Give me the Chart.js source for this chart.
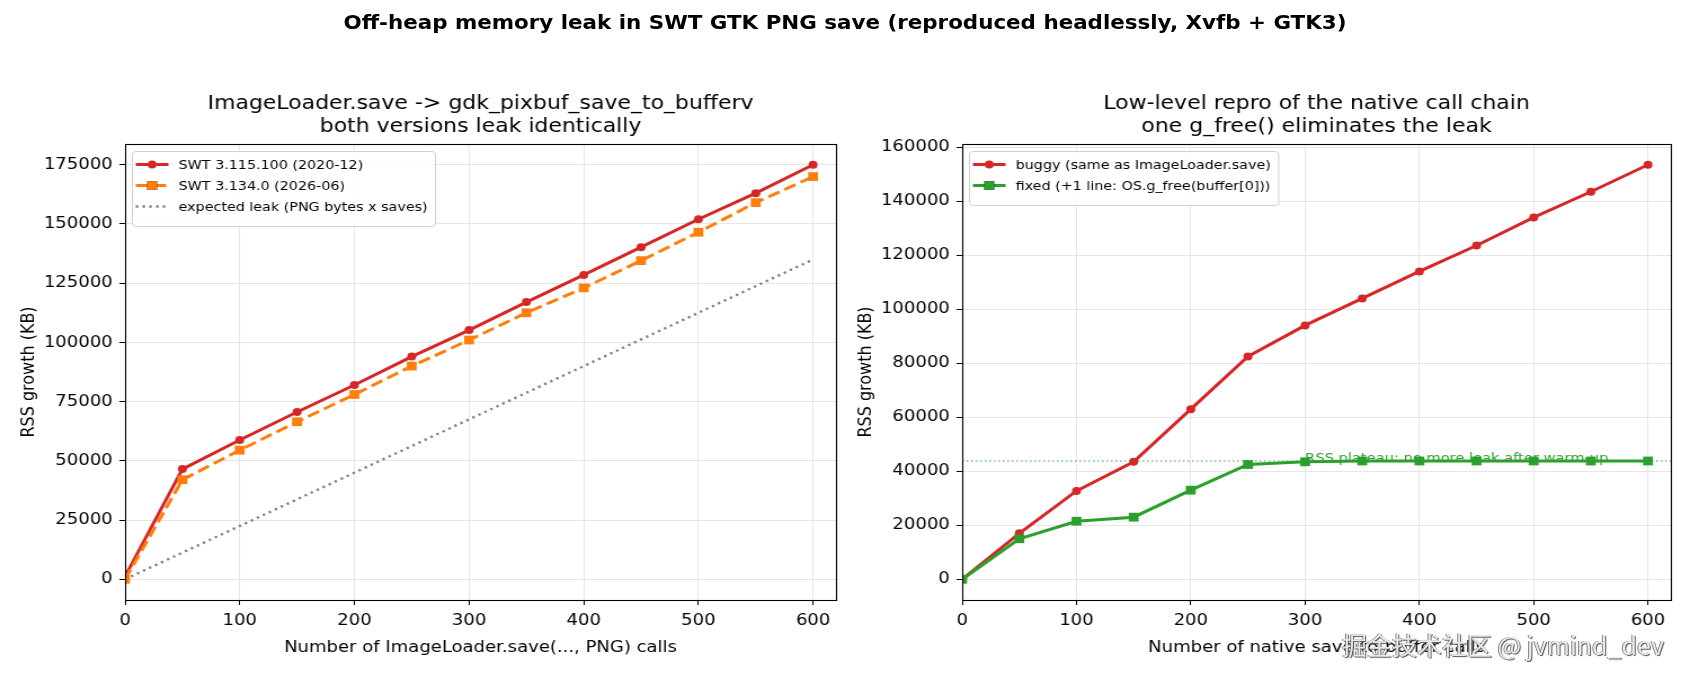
<!DOCTYPE html>
<html lang="en">
<head>
<meta charset="UTF-8">
<title>SWT GTK PNG save leak</title>
<script src="https://cdn.jsdelivr.net/npm/chart.js@4.4.1/dist/chart.umd.min.js"></script>
<style>
    body {
        margin: 0;
        background: #fff;
        width: 1690px;
        height: 676px;
        overflow: hidden;
        position: relative;
        font-family: "DejaVu Sans", sans-serif;
    }

    /* the figure is drawn 1500 wide and stretched to 1690, like the reference */
    #stage {
        position: absolute;
        left: 0;
        top: 0;
        width: 1500px;
        height: 676px;
        transform: scaleX(1.12667);
        transform-origin: 0 0;
    }

    canvas {
        position: absolute;
        left: 0;
        top: 0;
    }

    #suptitle {
        position: absolute;
        left: 0;
        top: 10px;
        width: 1500px;
        text-align: center;
        font: bold 19px "DejaVu Sans";
        line-height: 25px;
    }

    #mark {
        position: absolute;
        left: 1342px;
        top: 626px;
        font: 25px "Noto Sans CJK SC", "DejaVu Sans";
        color: #e8e8e8;
        text-shadow: 1px 1px 1px #555, -1px 0 0 #888;
        white-space: nowrap;
    }
</style>
</head>
<body>
<div id="stage">
    <div id="suptitle">Off-heap memory leak in SWT GTK PNG save (reproduced headlessly, Xvfb + GTK3)</div>
    <canvas id="leftChart" width="1500" height="676"></canvas>
    <canvas id="rightChart" width="1500" height="676"></canvas>
</div>
<div id="mark">掘金技术社区 @ jvmind_dev</div>
<script>
    // number of saves / native calls (x)
    const saveCounts = [0, 50, 100, 150, 200, 250, 300, 350, 400, 450, 500, 550, 600];
    // left panel, RSS growth in KB
    const swtOld = [1200, 46500, 58800, 70600, 82000, 94000, 105200, 117000, 128500, 140200, 152000, 163000, 175000];
    const swtNew = [0, 42000, 54500, 66500, 78000, 90000, 101000, 112500, 123000, 134500, 146500, 159000, 170000];
    const expectedX = [0, 600];
    const expectedY = [0, 135000];
    // right panel
    const buggy = [0, 17000, 32700, 43500, 63000, 82500, 94000, 104000, 114000, 123600, 134000, 143500, 153500];
    const fixedVals = [0, 15000, 21500, 23000, 33000, 42500, 43500, 43800, 43800, 43800, 43800, 43800, 43800];
    const plateauX = [0, 620];
    const plateauY = [43800, 43800];

    const xTicks = [0, 100, 200, 300, 400, 500, 600];
    const leftYTicks = [0, 25000, 50000, 75000, 100000, 125000, 150000, 175000];
    const rightYTicks = [0, 20000, 40000, 60000, 80000, 100000, 120000, 140000, 160000];

    Chart.defaults.font.family = "'DejaVu Sans'";
    Chart.defaults.color = '#000';

    const pts = (xs, ys) => xs.map((x, i) => ({ x: x, y: ys[i] }));

    const framePlugin = {
        id: 'frame',
        afterDatasetsDraw(chart) {
            const a = chart.chartArea;
            const ctx = chart.ctx;
            ctx.save();
            ctx.strokeStyle = '#000';
            ctx.lineWidth = 1.1;
            ctx.strokeRect(Math.round(a.left) + 0.5, Math.round(a.top) + 0.5,
                Math.round(a.right - a.left), Math.round(a.bottom - a.top));
            ctx.restore();
        }
    };

    const subTitlePlugin = {
        id: 'subTitle',
        afterDraw(chart, args, opts) {
            const a = chart.chartArea;
            const ctx = chart.ctx;
            ctx.save();
            ctx.font = "19.5px 'DejaVu Sans'";
            ctx.fillStyle = '#000';
            ctx.textAlign = 'center';
            ctx.textBaseline = 'alphabetic';
            opts.lines.forEach((t, i) => ctx.fillText(t, (a.left + a.right) / 2, 109 + i * 23));
            ctx.restore();
        }
    };

    const boxLegendPlugin = {
        id: 'boxLegend',
        afterDraw(chart) {
            const a = chart.chartArea;
            const ctx = chart.ctx;
            const items = chart.data.datasets.filter(d => d.label);
            ctx.save();
            ctx.font = "12.7px 'DejaVu Sans'";
            const textW = Math.max(...items.map(d => ctx.measureText(d.label).width));
            const x0 = a.left + 6.5, y0 = a.top + 7.5;
            const w = 41 + textW + 7, h = 12 + items.length * 21;
            ctx.fillStyle = 'rgba(255,255,255,0.85)';
            ctx.strokeStyle = '#d0d0d0';
            ctx.lineWidth = 1;
            ctx.beginPath();
            ctx.roundRect(x0, y0, w, h, 3);
            ctx.fill();
            ctx.stroke();
            items.forEach((d, i) => {
                const y = y0 + 13 + i * 21;
                ctx.strokeStyle = d.borderColor;
                ctx.lineWidth = d.borderWidth;
                ctx.setLineDash(d.borderDash || []);
                ctx.beginPath();
                ctx.moveTo(x0 + 3, y);
                ctx.lineTo(x0 + 32, y);
                ctx.stroke();
                ctx.setLineDash([]);
                if (d.pointRadius > 0) {
                    Chart.helpers.drawPoint(ctx, {
                        pointStyle: d.pointStyle, radius: d.pointRadius, borderWidth: 0
                    }, x0 + 17.5, y);
                    ctx.fillStyle = d.borderColor;
                    ctx.fill();
                }
                ctx.fillStyle = '#000';
                ctx.textBaseline = 'middle';
                ctx.fillText(d.label, x0 + 41, y + 1);
            });
            ctx.restore();
        }
    };

    const notePlugin = {
        id: 'note',
        afterDatasetsDraw(chart, args, opts) {
            if (!opts.text) return;
            const ctx = chart.ctx;
            const x = chart.scales.x.getPixelForValue(opts.x);
            const y = chart.scales.y.getPixelForValue(opts.y);
            ctx.save();
            ctx.font = "13px 'DejaVu Sans'";
            ctx.fillStyle = '#2ca02c';
            ctx.textBaseline = 'alphabetic';
            ctx.fillText(opts.text, x, y + 1);
            ctx.restore();
        }
    };

    function makeScales(yTicks, yMin, yMax, xTitle, yWidth) {
        return {
            x: {
                type: 'linear',
                min: 0,
                max: 620,
                afterBuildTicks: s => { s.ticks = xTicks.map(v => ({ value: v })); },
                afterFit: s => { s.height = 57; },
                ticks: { font: { size: 16 }, padding: 6, maxRotation: 0, autoSkip: false, callback: v => String(v) },
                grid: { color: '#e6e6e6', tickColor: '#000', tickLength: 5, lineWidth: 1 },
                border: { color: '#000' },
                title: { display: true, text: xTitle, font: { size: 16 }, padding: { top: 0, bottom: 0 } }
            },
            y: {
                type: 'linear',
                min: yMin,
                max: yMax,
                afterBuildTicks: s => { s.ticks = yTicks.map(v => ({ value: v })); },
                afterFit: s => { s.width = yWidth; },
                ticks: { font: { size: 16 }, padding: 6, callback: v => String(v) },
                grid: { color: '#e6e6e6', tickColor: '#000', tickLength: 5, lineWidth: 1 },
                border: { color: '#000' },
                title: { display: true, text: 'RSS growth (KB)', font: { size: 16 }, padding: { top: 0, bottom: 0 } }
            }
        };
    }

    new Chart(document.getElementById('leftChart'), {
        type: 'line',
        data: {
            datasets: [{
                label: 'SWT 3.115.100 (2020-12)',
                data: pts(saveCounts, swtOld),
                borderColor: '#d62728',
                backgroundColor: '#d62728',
                borderWidth: 3,
                pointStyle: 'circle',
                pointRadius: 4,
                pointBorderWidth: 0,
                order: 2
            }, {
                label: 'SWT 3.134.0 (2026-06)',
                data: pts(saveCounts, swtNew),
                borderColor: '#ff7f0e',
                backgroundColor: '#ff7f0e',
                borderWidth: 3,
                borderDash: [11, 5],
                pointStyle: 'rect',
                pointRadius: 6.2,
                pointBorderWidth: 0,
                order: 1
            }, {
                label: 'expected leak (PNG bytes x saves)',
                data: pts(expectedX, expectedY),
                borderColor: '#7f7f7f',
                borderWidth: 2.4,
                borderDash: [2.2, 3.8],
                pointRadius: 0,
                order: 3
            }]
        },
        options: {
            responsive: false,
            animation: false,
            clip: 0,
            layout: { padding: { left: 16, right: 758, top: 144, bottom: 19 } },
            scales: makeScales(leftYTicks, -8750, 183750, 'Number of ImageLoader.save(..., PNG) calls', 95),
            plugins: {
                legend: { display: false },
                tooltip: { enabled: false },
                subTitle: { lines: ['ImageLoader.save -> gdk_pixbuf_save_to_bufferv', 'both versions leak identically'] },
                note: {}
            }
        },
        plugins: [framePlugin, subTitlePlugin, boxLegendPlugin, notePlugin]
    });

    new Chart(document.getElementById('rightChart'), {
        type: 'line',
        data: {
            datasets: [{
                label: 'buggy (same as ImageLoader.save)',
                data: pts(saveCounts, buggy),
                borderColor: '#d62728',
                backgroundColor: '#d62728',
                borderWidth: 3,
                pointStyle: 'circle',
                pointRadius: 4,
                pointBorderWidth: 0,
                order: 3
            }, {
                label: 'fixed (+1 line: OS.g_free(buffer[0]))',
                data: pts(saveCounts, fixedVals),
                borderColor: '#2ca02c',
                backgroundColor: '#2ca02c',
                borderWidth: 3,
                pointStyle: 'rect',
                pointRadius: 6.2,
                pointBorderWidth: 0,
                order: 1
            }, {
                data: pts(plateauX, plateauY),
                borderColor: 'rgba(44,160,44,0.65)',
                borderWidth: 1.6,
                borderDash: [1.5, 2.5],
                pointRadius: 0,
                order: 2
            }]
        },
        options: {
            responsive: false,
            animation: false,
            clip: 0,
            layout: { padding: { left: 759, right: 17, top: 144, bottom: 19 } },
            scales: makeScales(rightYTicks, -7675, 161175, 'Number of native save-to-buffer calls', 95),
            plugins: {
                legend: { display: false },
                tooltip: { enabled: false },
                subTitle: { lines: ['Low-level repro of the native call chain', 'one g_free() eliminates the leak'] },
                note: { text: 'RSS plateau: no more leak after warm-up', x: 300, y: 43800 }
            }
        },
        plugins: [framePlugin, subTitlePlugin, boxLegendPlugin, notePlugin]
    });
</script>
</body>
</html>
